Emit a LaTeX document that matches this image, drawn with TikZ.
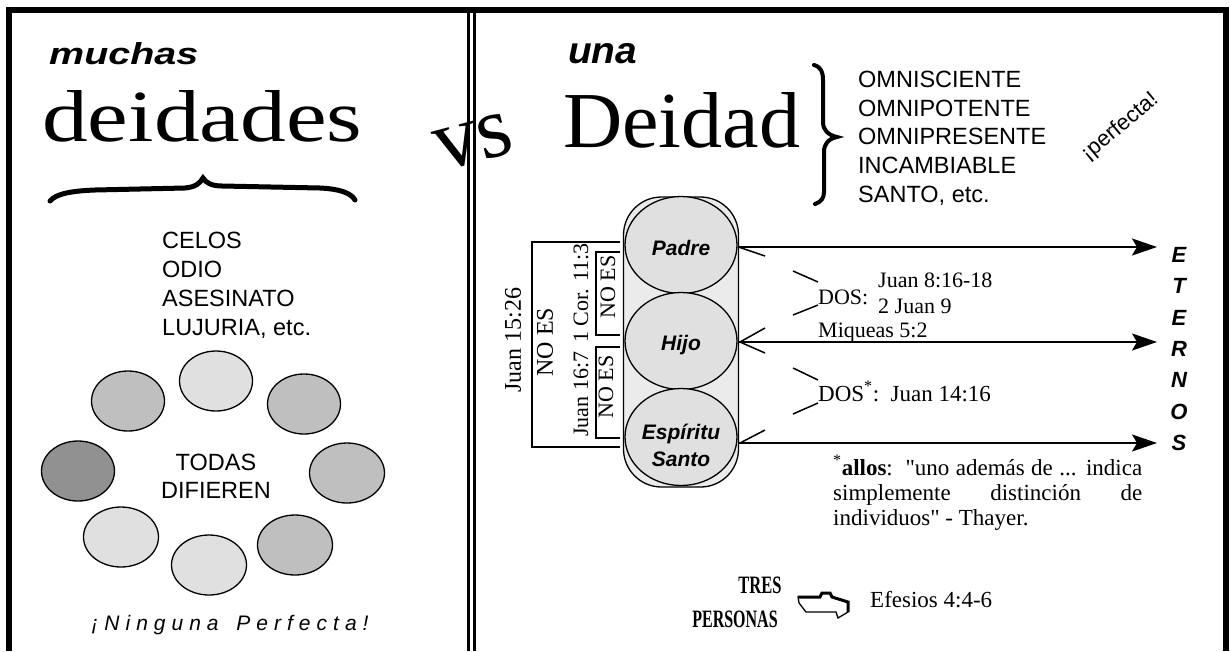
\documentclass[tikz,border=0pt]{standalone}
\usepackage{fontspec}
\usepackage{graphicx}
\setmainfont{Liberation Serif}[Ligatures=TeXOff]
\newfontfamily\arial{Liberation Sans}
\usetikzlibrary{shapes.geometric,arrows.meta}
\newcommand\fsz[1]{\fontsize{#1}{#1}\selectfont}
\newcommand\tk{\kern6pt}
\definecolor{glight}{gray}{0.88}
\definecolor{gmid}{gray}{0.75}
\definecolor{gdark}{gray}{0.57}
\definecolor{gcap}{gray}{0.92}
\tikzset{
  frame/.style={line width=6pt, line join=miter},
  midline/.style={line width=2.5pt},
  deity/.style={ellipse, draw, line width=1.3pt, minimum width=73pt, minimum height=60pt, inner sep=0pt},
  pers/.style={ellipse, draw, line width=1.3pt, fill=glight, minimum width=112pt, minimum height=97pt, inner sep=0pt},
  plabel/.style={font=\arial\bfseries\itshape\fontsize{21}{27}\selectfont, align=center, inner sep=0pt},
  sanslist/.style={font=\arial\fsz{23.5}, anchor=base west, inner sep=0pt},
  sansc/.style={font=\arial\fsz{23.5}, anchor=base, inner sep=0pt},
  serif/.style={font=\fsz{22}, anchor=base west, inner sep=0pt},
  rot/.style={rotate=90, inner sep=0pt},
  bracket/.style={line width=2pt},
  flow/.style={line width=2pt, -{Stealth[length=25pt,width=17pt,inset=5pt]}},
  arm/.style={line width=1.5pt},
  eternal/.style={font=\arial\bfseries\itshape\fsz{22}, anchor=base, inner sep=0pt},
  brace/.style={line width=5pt, line cap=round},
  plain/.style={inner sep=0pt},
}
\begin{document}
\begin{tikzpicture}[x=1pt,y=-1pt]
\useasboundingbox (0,0) rectangle (1230,651);
\fill[white] (0,0) rectangle (1230,651);

% frame
\draw[frame] (9,651) -- (9,9.7) -- (1226,9.7) -- (1226,651);
\draw[midline] (468.5,12) -- (468.5,651) (474.5,12) -- (474.5,651);

% ---------- left panel ----------
\node[plain, anchor=base west] (muchas) at (49,64) {\resizebox{149pt}{22pt}{\arial\bfseries\itshape muchas}};
\node[plain, anchor=base west] (deidades) at (42,141) {\resizebox{320pt}{51pt}{deidades}};
\draw[brace] (50,201) .. controls (56,194) and (70,191) .. (95,190) -- (185,188)
  .. controls (196,187) and (200,183) .. (203,178)
  .. controls (206,183) and (212,186) .. (222,186) -- (320,188)
  .. controls (340,189) and (351,193) .. (355,200);

\node[sanslist] (celos) at (162,248) {CELOS};
\node[sanslist] (odio) at (162,277) {ODIO};
\node[sanslist] (asesinato) at (162,306) {ASESINATO};
\node[sanslist] (lujuria) at (162,335) {LUJURIA, etc.};

\node[deity, fill=glight] (g1) at (216,381) {};
\node[deity, fill=gmid] (g2) at (128,401) {};
\node[deity, fill=gmid] (g3) at (304,404) {};
\node[deity, fill=gdark] (g4) at (78,471) {};
\node[deity, fill=gmid, minimum width=75pt] (g5) at (347,473) {};
\node[deity, fill=glight, minimum width=75pt] (g6) at (121,537) {};
\node[deity, fill=glight, minimum width=75pt] (g7) at (209,565) {};
\node[deity, fill=gmid, minimum width=75pt] (g8) at (295,545) {};

\node[sansc] (todas) at (216,470) {TODAS};
\node[sansc] (difieren) at (216,498) {DIFIEREN};

\node[plain, anchor=base, font=\arial\itshape\fsz{21}] (ninguna) at (230,630)
  {¡\tk N\tk i\tk n\tk g\tk u\tk n\tk a\tk\ \tk P\tk e\tk r\tk f\tk e\tk c\tk t\tk a\tk !};

% vs
\node[plain, rotate=15, font=\fsz{88}] (vs) at (474,142) {vs};

% ---------- right panel ----------
\node[plain, anchor=base west] (una) at (568,63) {\resizebox{69pt}{20pt}{\arial\bfseries\itshape una}};
\node[plain, anchor=base west] (deidad) at (563,147) {\resizebox{237pt}{55pt}{Deidad}};
\draw[brace, line width=4pt] (814,65) .. controls (821,67) and (823,72) .. (823,80) -- (823,122)
  .. controls (823,130) and (828,135) .. (837,137)
  .. controls (828,139) and (824,144) .. (824,152) -- (824,192)
  .. controls (824,198) and (821,202) .. (815,204);

\node[sanslist] (omnisc) at (858,87) {OMNISCIENTE};
\node[sanslist] (omnipot) at (858,116) {OMNIPOTENTE};
\node[sanslist] (omnipres) at (858,144) {OMNIPRESENTE};
\node[sanslist] (incamb) at (858,173) {INCAMBIABLE};
\node[sanslist] (santo) at (858,202) {SANTO, etc.};
\node[plain, rotate=40, font=\arial\fsz{22}] (perfecta) at (1120,127) {¡perfecta!};

% capsule and persons
\node[draw, line width=1.3pt, fill=gcap, rounded corners=38pt, minimum width=115pt, minimum height=290pt] (cap) at (681,342) {};
\node[pers] (padre) at (681,245) {};
\node[pers] (hijo) at (681,341) {};
\node[pers] (esp) at (681,437) {};
\node[plabel] (tpadre) at (681,248) {Padre};
\node[plabel] (thijo) at (681,345) {Hijo};
\node[plabel] (tesp) at (681,445) {Espíritu\\Santo};

% brackets on the left
\draw[bracket] (620,242) -- (532,242) -- (532,447) -- (620,447);
\draw[bracket] (620,252) -- (596,252) -- (596,335) -- (620,335);
\draw[bracket] (620,347) -- (596,347) -- (596,438) -- (620,438);
\node[rot, font=\fsz{24}] (j1526) at (513,340) {Juan 15:26};
\node[rot, font=\fsz{24}] (noes1) at (545,342) {NO ES};
\node[rot, font=\fsz{22}] (jcor) at (581,340) {Juan 16:7\hspace{9pt}1 Cor. 11:3};
\node[rot, font=\fsz{22}] (noes2) at (608,287) {NO ES};
\node[rot, font=\fsz{22}] (noes3) at (606,387) {NO ES};

% arrows to ETERNOS
\coordinate (s1) at (738,247);
\coordinate (s2) at (739,342);
\coordinate (s3) at (739,443);
\coordinate (e1) at (1157,247);
\coordinate (e2) at (1157,342);
\coordinate (e3) at (1157,443);
\draw[flow] (s1) -- (e1);
\draw[flow] (s2) -- (e2);
\draw[flow] (s3) -- (e3);

% open arrow arms and DOS brackets
\draw[arm] (738.5,247) -- (765,256);
\draw[arm] (740,342) -- (765,328) (740,342) -- (765,353);
\draw[arm] (740,443) -- (765,430);
\draw[arm] (793,271) -- (818,282) (818,305) -- (793,315);
\draw[arm] (793,368) -- (818,380) (818,403) -- (793,414);

\node[serif] (dos1) at (818,304) {DOS:};
\node[serif] (j816) at (878,287) {Juan 8:16-18};
\node[serif] (j2) at (878,313) {2 Juan 9};
\node[serif] (miq) at (818,337) {Miqueas 5:2};
\node[serif, font=\fsz{23}] (dos2) at (818,401) {DOS\textsuperscript{*}:\ \ Juan 14:16};

\foreach \l [count=\i from 0] in {E,T,E,R,N,O,S}
  \node[eternal] (et\i) at (1179, 262.5+31.3*\i) {\l};

% footnote
\node[plain, anchor=base west, font=\fsz{23}] (fn1) at (833,475)
  {\makebox[309pt][s]{\textsuperscript{*}\textbf{allos}:\ \ "uno además de ... indica}};
\node[plain, anchor=base west, font=\fsz{23}] (fn2) at (833,500)
  {\makebox[309pt][s]{simplemente distinción de}};
\node[plain, anchor=base west, font=\fsz{23}] (fn3) at (833,525)
  {individuos" - Thayer.};

% bottom
\node[plain, anchor=base, font=\bfseries\fsz{25}] (tres) at (760,593) {\scalebox{0.66}[1]{TRES}};
\node[plain, anchor=base, font=\bfseries\fsz{25}] (personas) at (735,627) {\scalebox{0.64}[1]{PERSONAS}};
\draw[line width=1.3pt, fill=white] (798,597) -- (820,597) -- (822,593) -- (830,593) -- (832,597)
  -- (848,602) -- (848,612) -- (838,618) -- (836,612) -- (806,612) -- (799,603) -- cycle;
\draw[line width=3pt] (798,597) -- (820,597) -- (822,593) -- (830,593) -- (832,597) -- (848,602) -- (848,612);
\node[serif, font=\fsz{23}] (efesios) at (870,607) {Efesios 4:4-6};
\end{tikzpicture}
\end{document}
